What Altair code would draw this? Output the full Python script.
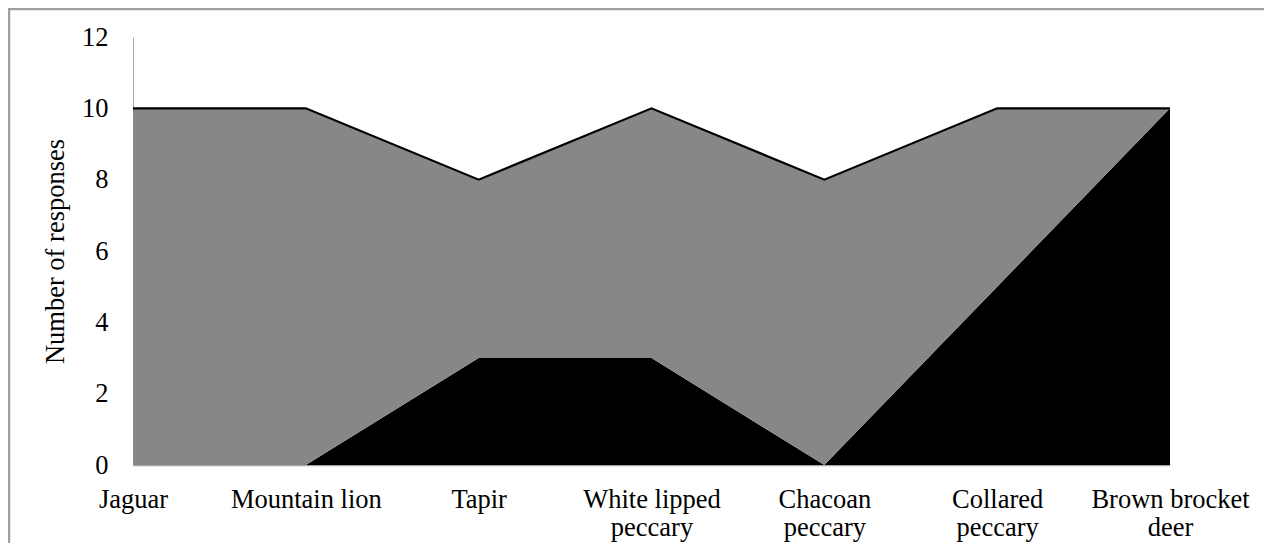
import altair as alt
import pandas as pd

species = ["Jaguar", "Mountain lion", "Tapir", "White lipped peccary",
           "Chacoan peccary", "Collared peccary", "Brown brocket deer"]
label_lines = [["Jaguar"], ["Mountain lion"], ["Tapir"], ["White lipped", "peccary"],
               ["Chacoan", "peccary"], ["Collared", "peccary"], ["Brown brocket", "deer"]]
black_values = [0, 0, 3, 3, 0, 5, 10]
gray_values = [10, 10, 5, 7, 8, 5, 0]
series_names = ["Series A", "Series B"]

rows = []
for i, s in enumerate(species):
    rows.append({"species": s, "series": series_names[0], "value": black_values[i], "order": 0})
    rows.append({"species": s, "series": series_names[1], "value": gray_values[i], "order": 1})
df = pd.DataFrame(rows)

label_map = "{" + ", ".join(
    "'" + s + "': [" + ", ".join("'" + l + "'" for l in ls) + "]"
    for s, ls in zip(species, label_lines)) + "}"

FONT = "Liberation Serif"
FS = 26.5
W, H = 1037, 428

x_enc = alt.X("species:N", sort=species,
              scale=alt.Scale(type="point", padding=0),
              axis=alt.Axis(title=None, labelAngle=0, ticks=False, labelPadding=21,
                            labelExpr=label_map + "[datum.label]",
                            labelLineHeight=28, labelFontSize=FS, labelFont=FONT,
                            labelColor="#000000", domainColor="#a6a6a6",
                            domainWidth=1.5, grid=False))

areas = alt.Chart(df).mark_area(interpolate="linear").encode(
    x=x_enc,
    y=alt.Y("value:Q", stack="zero",
            scale=alt.Scale(domain=[0, 12]),
            axis=alt.Axis(title="Number of responses", values=[0, 2, 4, 6, 8, 10, 12],
                          ticks=False, grid=False, labelPadding=25, labelFontSize=FS,
                          labelFont=FONT, labelColor="#000000", titleFont=FONT,
                          titleFontSize=FS, titleFontWeight="normal", titleColor="#000000",
                          titlePadding=12, domainColor="#a6a6a6", domainWidth=1)),
    color=alt.Color("series:N", scale=alt.Scale(domain=series_names,
                                                range=["#000000", "#878787"]),
                    legend=None),
    order=alt.Order("order:Q"),
)

top_line = alt.Chart(df).transform_aggregate(
    total="sum(value)", groupby=["species"]
).mark_line(color="#000000", strokeWidth=2.2, interpolate="linear").encode(
    x=alt.X("species:N", sort=species, scale=alt.Scale(type="point", padding=0)),
    y=alt.Y("total:Q"),
)

frame = alt.Chart(pd.DataFrame({"a": [0]})).mark_rect(
    fill=None, stroke="#a0a0a0", strokeWidth=2.5
).encode(x=alt.value(-124), x2=alt.value(W + 200), y=alt.value(-28), y2=alt.value(H + 200))

chart = alt.layer(areas, top_line, frame).properties(
    width=W, height=H,
    background="#ffffff",
    autosize=alt.AutoSizeParams(type="none"),
    padding={"left": 125, "top": 29, "right": 94, "bottom": 78},
).configure_view(strokeWidth=0, stroke=None)

chart.save("out.html", embed_options={"renderer": "svg", "actions": False})
